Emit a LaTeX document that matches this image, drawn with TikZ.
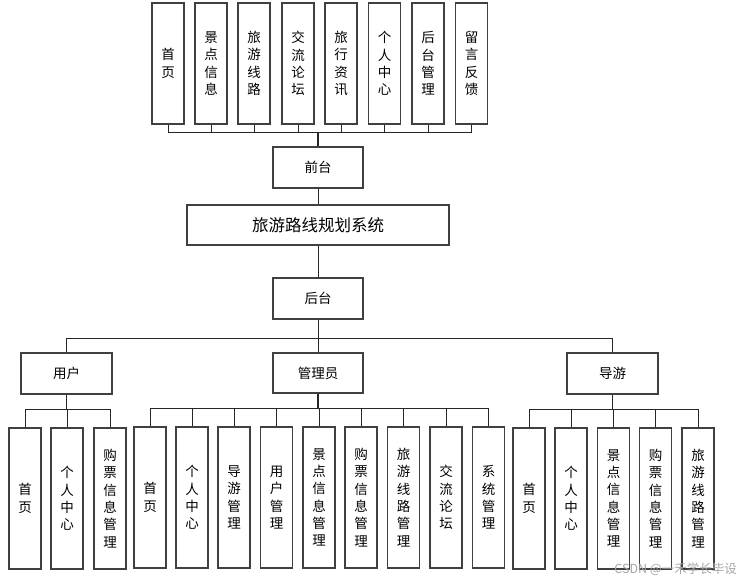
\documentclass[tikz,border=0pt]{standalone}
\usepackage{fontspec}
\newfontfamily\cjk{Noto Sans CJK SC}
\begin{document}
\begin{tikzpicture}[x=1pt,y=-1pt,
  box/.style={draw=black!75,line width=1.1pt,fill=white,inner sep=0pt,align=center,
    font=\cjk\fontsize{13.5}{17.3}\selectfont},
  vbox/.style={box,minimum width=32pt,minimum height=141pt},
  tbox/.style={box,minimum width=32pt,minimum height=121pt},
  hbox/.style={box,minimum width=90pt,minimum height=41pt},
  conn/.style={draw=black!85,line width=0.9pt}]
\useasboundingbox (0,0) rectangle (743,583);
% top row
\node[tbox] (t1) at (168,63.5) {首\\页};
\node[tbox] (t2) at (211,63.5) {景\\点\\信\\息};
\node[tbox] (t3) at (254,63.5) {旅\\游\\线\\路};
\node[tbox] (t4) at (298,63.5) {交\\流\\论\\坛};
\node[tbox] (t5) at (341,63.5) {旅\\行\\资\\讯};
\node[tbox] (t6) at (384.5,63.5) {个\\人\\中\\心};
\node[tbox] (t7) at (428,63.5) {后\\台\\管\\理};
\node[tbox] (t8) at (471.5,63.5) {留\\言\\反\\馈};
\node[hbox] (qt) at (318,167.5) {前台};
\node[box,minimum width=262pt,minimum height=40pt,font=\cjk\fontsize{16.5}{19}\selectfont] (sys) at (318,225) {旅游路线规划系统};
\node[hbox] (ht) at (318,298.5) {后台};
% roles
\node[hbox,minimum width=91pt] (yh) at (66.5,373.5) {用户};
\node[hbox,minimum height=40pt] (gl) at (318,373) {管理员};
\node[hbox,minimum width=91pt] (dy) at (612.5,373.5) {导游};
% user children
\node[vbox] (u1) at (25,498.5) {首\\页};
\node[vbox] (u2) at (67,498.5) {个\\人\\中\\心};
\node[vbox] (u3) at (110,498.5) {购\\票\\信\\息\\管\\理};
% admin children
\node[vbox] (a1) at (150,497.5) {首\\页};
\node[vbox] (a2) at (192,497.5) {个\\人\\中\\心};
\node[vbox] (a3) at (234,497.5) {导\\游\\管\\理};
\node[vbox] (a4) at (276.5,497.5) {用\\户\\管\\理};
\node[vbox] (a5) at (319,497.5) {景\\点\\信\\息\\管\\理};
\node[vbox] (a6) at (361,497.5) {购\\票\\信\\息\\管\\理};
\node[vbox] (a7) at (403.5,497.5) {旅\\游\\线\\路\\管\\理};
\node[vbox] (a8) at (446,497.5) {交\\流\\论\\坛};
\node[vbox] (a9) at (488.5,497.5) {系\\统\\管\\理};
% guide children
\node[vbox] (g1) at (529,498.5) {首\\页};
\node[vbox] (g2) at (571,498.5) {个\\人\\中\\心};
\node[vbox] (g3) at (613.5,498.5) {景\\点\\信\\息\\管\\理};
\node[vbox] (g4) at (655.5,498.5) {购\\票\\信\\息\\管\\理};
\node[vbox] (g5) at (698,498.5) {旅\\游\\线\\路\\管\\理};
% bus coordinates
\coordinate (tbus) at (318,132);
\coordinate (rbus) at (318,338);
\coordinate (ubus) at (66.5,409);
\coordinate (abus) at (318,408);
\coordinate (gbus) at (612.5,409);
% top connectors
\foreach \i in {1,...,8} \draw[conn] (t\i.south) -- (t\i.south |- tbus);
\draw[conn] (t1.south |- tbus) -- (t8.south |- tbus);
\draw[conn,line width=1.8pt] (qt.north) -- (tbus);
\draw[conn] (qt.south) -- (sys.north);
\draw[conn] (sys.south) -- (ht.north);
% roles bus
\draw[conn] (ht.south) -- (rbus);
\draw[conn] (yh.north |- rbus) -- (dy.north |- rbus);
\draw[conn] (yh.north |- rbus) -- (yh.north);
\draw[conn] (gl.north |- rbus) -- (gl.north);
\draw[conn] (dy.north |- rbus) -- (dy.north);
% user
\draw[conn] (yh.south) -- (ubus);
\draw[conn] (u1.north |- ubus) -- (u3.north |- ubus);
\foreach \i in {1,2,3} \draw[conn] (u\i.north |- ubus) -- (u\i.north);
% admin
\draw[conn,line width=1.8pt] (gl.south) -- (abus);
\draw[conn] (a1.north |- abus) -- (a9.north |- abus);
\foreach \i in {1,...,9} \draw[conn] (a\i.north |- abus) -- (a\i.north);
% guide
\draw[conn] (dy.south) -- (gbus);
\draw[conn] (g1.north |- gbus) -- (g5.north |- gbus);
\foreach \i in {1,...,5} \draw[conn] (g\i.north |- gbus) -- (g\i.north);
% watermark
\node[text=black!35,font=\cjk\fontsize{12.5}{14}\selectfont,anchor=east,inner sep=0pt] (wm) at (737,569) {CSDN @一禾学长毕设};
\end{tikzpicture}
\end{document}
